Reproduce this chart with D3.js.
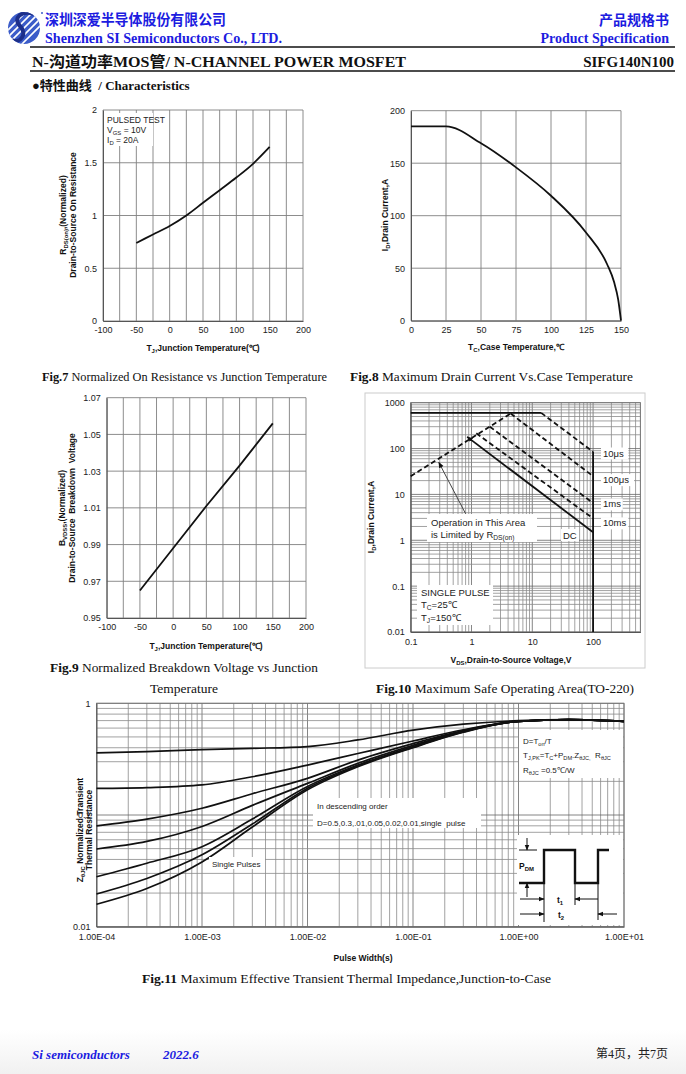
<!DOCTYPE html>
<html>
<head>
<meta charset="utf-8">
<script src="https://cdn.jsdelivr.net/npm/d3@7"></script>
<style>
  body { margin: 0; background: #fff; }
  svg { display: block; }
  text { white-space: pre; }
</style>
</head>
<body>
<svg id="page"></svg>
<script>
// Fig.7 on-resistance vs junction temperature
const rdsTemp = [-50, -25, 0, 25, 50, 75, 100, 125, 150];
const rdsNorm = [0.74, 0.82, 0.90, 1.0, 1.12, 1.24, 1.36, 1.49, 1.65];

// Fig.8 drain current vs case temperature
const idTemp = [0, 25, 50, 75, 100, 125, 140, 145, 148, 150];
const idCurrent = [185, 185, 169, 146, 119, 84, 54, 37, 20, 0];

// Fig.9 breakdown voltage vs junction temperature
const bvTemp = [-50, 0, 50, 100, 150];
const bvNorm = [0.965, 0.988, 1.011, 1.033, 1.056];

// Fig.10 safe operating area, [V, A] pairs
const soaRdsLimit = [[0.1, 25], [4.4, 580]];
const soaFlat = [[0.1, 600], [14, 600]];
const soa10us = [[14, 600], [100, 85]];
const soa100us = [[4.4, 580], [100, 25]];
const soa1ms = [[2, 300], [100, 6.5]];
const soa10ms = [[1.2, 215], [100, 3]];
const soaDC = [[0.85, 180], [100, 1.5]];
const soaVmax = [[100, 85], [100, 0.01]];
const soaLabels = ["10μs", "100μs", "1ms", "10ms"];
const soaLabelY = [80, 21, 6.2, 2.4];

// Fig.11 transient thermal impedance
const pulseWidth = [1e-4, 3e-4, 1e-3, 3e-3, 1e-2, 3e-2, 1e-1, 3e-1, 1, 3, 10];
const zthD05 = [0.36, 0.37, 0.385, 0.395, 0.41, 0.47, 0.575, 0.65, 0.70, 0.715, 0.69];
const zthD03 = [0.173, 0.176, 0.186, 0.22, 0.28, 0.355, 0.46, 0.58, 0.69, 0.715, 0.69];
const zthD01 = [0.08, 0.092, 0.115, 0.155, 0.213, 0.31, 0.435, 0.57, 0.69, 0.715, 0.69];
const zthD005 = [0.0496, 0.058, 0.079, 0.122, 0.192, 0.29, 0.42, 0.565, 0.69, 0.715, 0.69];
const zthD002 = [0.028, 0.037, 0.052, 0.092, 0.18, 0.28, 0.41, 0.56, 0.69, 0.715, 0.69];
const zthD001 = [0.0196, 0.027, 0.044, 0.083, 0.174, 0.275, 0.405, 0.555, 0.69, 0.715, 0.69];
const zthSingle = [0.0159, 0.022, 0.038, 0.078, 0.168, 0.27, 0.40, 0.55, 0.69, 0.715, 0.69];
const zthTickLabels = ["1.00E-04", "1.00E-03", "1.00E-02", "1.00E-01", "1.00E+00", "1.00E+01"];

const SANS = "'Liberation Sans', Arial, sans-serif";
const SERIF = "'Liberation Serif', 'Times New Roman', 'Noto Sans CJK SC', serif";
const CJK = "'Noto Sans CJK SC', sans-serif";
const BLUE = "#1c1ce0";

const svg = d3.select("#page").attr("width", 686).attr("height", 1074);

const defs = svg.append("defs");
defs.append("marker").attr("id", "arr").attr("viewBox", "0 0 10 10")
    .attr("refX", 9).attr("refY", 5).attr("markerWidth", 6).attr("markerHeight", 6)
    .attr("orient", "auto-start-reverse").attr("markerUnits", "userSpaceOnUse")
    .append("path").attr("d", "M0,1 L10,5 L0,9 z").attr("fill", "#111");
const fade = defs.append("linearGradient").attr("id", "fade").attr("x1", 0).attr("y1", 0).attr("x2", 0).attr("y2", 1);
fade.append("stop").attr("offset", "0%").attr("stop-color", "#fff");
fade.append("stop").attr("offset", "100%").attr("stop-color", "#f1f1f1");
svg.append("rect").attr("x", 0).attr("y", 1030).attr("width", 686).attr("height", 44).attr("fill", "url(#fade)");

// text with subscripts: plain strings are normal, [str] is subscript
function rich(g, x, y, parts, attrs) {
    const t = g.append("text").attr("x", x).attr("y", y);
    Object.entries(attrs || {}).forEach(([k, v]) => t.attr(k, v));
    let inSub = false;
    parts.forEach((p) => {
        const isSub = Array.isArray(p);
        const ts = t.append("tspan").text(isSub ? p[0] : p);
        if (isSub) ts.attr("font-size", "0.7em");
        if (isSub && !inSub) ts.attr("dy", 2);
        if (!isSub && inSub) ts.attr("dy", -2);
        inSub = isSub;
    });
    return t;
}

function styleAxis(a) {
    a.select(".domain").attr("stroke", "#555");
    a.selectAll("text").attr("font-family", SANS).attr("font-size", 9).attr("fill", "#222");
}

function linearChart(o) {
    const g = svg.append("g");
    const x = d3.scaleLinear().domain(o.xDomain).range([o.left, o.right]);
    const y = d3.scaleLinear().domain(o.yDomain).range([o.bottom, o.top]);
    const xs = d3.range(o.xDomain[0], o.xDomain[1] + o.xStep / 2, o.xStep);
    const ys = d3.range(o.yDomain[0], o.yDomain[1] + o.yStep / 2, o.yStep);
    g.selectAll(".vg").data(xs).join("line")
        .attr("x1", (d) => x(d)).attr("x2", (d) => x(d))
        .attr("y1", o.top).attr("y2", o.bottom)
        .attr("stroke", "#808080").attr("stroke-width", 0.9);
    g.selectAll(".hg").data(ys).join("line")
        .attr("y1", (d) => y(d)).attr("y2", (d) => y(d))
        .attr("x1", o.left).attr("x2", o.right)
        .attr("stroke", "#808080").attr("stroke-width", 0.9);
    g.append("g").attr("transform", `translate(0,${o.bottom})`)
        .call(d3.axisBottom(x).tickValues(o.xTicks).tickSize(0).tickPadding(6).tickFormat((d) => String(d)))
        .call(styleAxis);
    g.append("g").attr("transform", `translate(${o.left},0)`)
        .call(d3.axisLeft(y).tickValues(o.yTicks).tickSize(0).tickPadding(6).tickFormat(o.yFormat || ((d) => String(d))))
        .call(styleAxis);
    return { g, x, y };
}

function logValues(lo, hi) {
    const out = [];
    for (let e = Math.floor(Math.log10(lo)); e <= Math.ceil(Math.log10(hi)); e++) {
        for (let m = 1; m < 10; m++) {
            const v = m * Math.pow(10, e);
            if (v >= lo * 0.999 && v <= hi * 1.001) out.push(v);
        }
    }
    return out;
}

function logChart(o) {
    const g = svg.append("g");
    const x = d3.scaleLog().domain(o.xDomain).range([o.left, o.right]);
    const y = d3.scaleLog().domain(o.yDomain).range([o.bottom, o.top]);
    const isMajor = (v) => Math.abs(Math.log10(v) - Math.round(Math.log10(v))) < 1e-6;
    g.selectAll(".vg").data(logValues(...o.xDomain)).join("line")
        .attr("x1", (d) => x(d)).attr("x2", (d) => x(d))
        .attr("y1", o.top).attr("y2", o.bottom)
        .attr("stroke", (d) => (isMajor(d) ? "#666" : "#8a8a8a")).attr("stroke-width", 0.8);
    g.selectAll(".hg").data(logValues(...o.yDomain)).join("line")
        .attr("y1", (d) => y(d)).attr("y2", (d) => y(d))
        .attr("x1", o.left).attr("x2", o.right)
        .attr("stroke", (d) => (isMajor(d) ? "#666" : "#8a8a8a")).attr("stroke-width", 0.8);
    g.append("rect").attr("x", o.left).attr("y", o.top)
        .attr("width", o.right - o.left).attr("height", o.bottom - o.top)
        .attr("fill", "none").attr("stroke", "#777").attr("stroke-width", 0.9);
    g.append("g").attr("transform", `translate(0,${o.bottom})`)
        .call(d3.axisBottom(x).tickValues(o.xTicks).tickSize(0).tickPadding(7).tickFormat(o.xFormat))
        .call(styleAxis);
    g.append("g").attr("transform", `translate(${o.left},0)`)
        .call(d3.axisLeft(y).tickValues(o.yTicks).tickSize(0).tickPadding(6).tickFormat(o.yFormat))
        .call(styleAxis);
    return { g, x, y };
}

function whiteBox(g, x, y, w, h) {
    g.append("rect").attr("x", x).attr("y", y).attr("width", w).attr("height", h).attr("fill", "#fff");
}

function xTitle(g, cx, y, parts) {
    rich(g, cx, y, parts, { "text-anchor": "middle", "font-family": SANS, "font-size": 8.5, "font-weight": "bold", fill: "#111" });
}

function yTitle(g, x, cy, parts) {
    const t = rich(g, 0, 0, parts, { "text-anchor": "middle", "font-family": SANS, "font-size": 8.5, "font-weight": "bold", fill: "#111" });
    t.attr("transform", `translate(${x},${cy}) rotate(-90)`);
}

function caption(x, y, bold, rest, width, anchor) {
    const t = svg.append("text").attr("x", x).attr("y", y).attr("font-family", SERIF)
        .attr("font-size", 13.3).attr("fill", "#111").attr("text-anchor", anchor || "start")
        .attr("textLength", width).attr("lengthAdjust", "spacingAndGlyphs");
    if (bold) t.append("tspan").attr("font-weight", "bold").text(bold);
    t.append("tspan").text(rest);
}

// ---------------- header ----------------
const logo = svg.append("g");
defs.append("clipPath").attr("id", "logoClip").append("circle").attr("cx", 24).attr("cy", 28).attr("r", 16);
logo.append("circle").attr("cx", 24).attr("cy", 28).attr("r", 16).attr("fill", "#3b5cc9");
const logoStripes = logo.append("g").attr("clip-path", "url(#logoClip)");
[-14, -7, 0, 7, 14].forEach((off) => {
    logoStripes.append("line").attr("x1", 24 + off - 20).attr("y1", 48).attr("x2", 24 + off + 20).attr("y2", 8)
        .attr("stroke", "#fff").attr("stroke-width", 1.6);
});
logoStripes.append("path").attr("d", "M34,14 C22,10 12,18 20,26 C28,34 20,44 12,40")
    .attr("fill", "none").attr("stroke", "#1d2f8a").attr("stroke-width", 4);
svg.append("circle").attr("cx", 42).attr("cy", 13).attr("r", 1).attr("fill", "#3b5cc9");

svg.append("text").attr("x", 45).attr("y", 25).attr("font-family", CJK).attr("font-weight", "bold")
    .attr("font-size", 14.5).attr("fill", BLUE).attr("textLength", 181).attr("lengthAdjust", "spacingAndGlyphs")
    .text("深圳深爱半导体股份有限公司");
svg.append("text").attr("x", 45).attr("y", 43).attr("font-family", SERIF).attr("font-weight", "bold")
    .attr("font-size", 14).attr("fill", BLUE).attr("textLength", 237).attr("lengthAdjust", "spacingAndGlyphs")
    .text("Shenzhen SI Semiconductors Co., LTD.");
svg.append("text").attr("x", 669).attr("y", 25).attr("font-family", CJK).attr("font-weight", "bold")
    .attr("font-size", 14).attr("fill", BLUE).attr("text-anchor", "end").text("产品规格书");
svg.append("text").attr("x", 669).attr("y", 43).attr("font-family", SERIF).attr("font-weight", "bold")
    .attr("font-size", 14).attr("fill", BLUE).attr("text-anchor", "end").text("Product Specification");
svg.append("line").attr("x1", 30).attr("x2", 675).attr("y1", 47).attr("y2", 47).attr("stroke", "#111").attr("stroke-width", 1.6);
svg.append("text").attr("x", 32).attr("y", 67).attr("font-family", SERIF).attr("font-weight", "bold")
    .attr("font-size", 15).attr("fill", "#111").attr("textLength", 374).attr("lengthAdjust", "spacingAndGlyphs")
    .text("N-沟道功率MOS管/ N-CHANNEL POWER MOSFET");
svg.append("text").attr("x", 674).attr("y", 67).attr("font-family", SERIF).attr("font-weight", "bold")
    .attr("font-size", 15).attr("fill", "#111").attr("text-anchor", "end").text("SIFG140N100");
svg.append("line").attr("x1", 30).attr("x2", 675).attr("y1", 71).attr("y2", 71).attr("stroke", "#111").attr("stroke-width", 1.3);
svg.append("text").attr("x", 32).attr("y", 90).attr("font-family", SERIF).attr("font-weight", "bold")
    .attr("font-size", 13).attr("fill", "#111").text("●特性曲线  / Characteristics");

// ---------------- Fig.7 ----------------
const f7 = linearChart({
    left: 103, right: 303, top: 110, bottom: 321,
    xDomain: [-100, 200], xStep: 25, yDomain: [0, 2], yStep: 0.5,
    xTicks: d3.range(-100, 201, 50), yTicks: [0, 0.5, 1, 1.5, 2],
});
f7.g.append("path").datum(d3.zip(rdsTemp, rdsNorm))
    .attr("d", d3.line().x((d) => f7.x(d[0])).y((d) => f7.y(d[1])).curve(d3.curveMonotoneX))
    .attr("fill", "none").attr("stroke", "#111").attr("stroke-width", 1.8);
whiteBox(f7.g, 105, 113, 48, 33);
const leg7 = { "font-family": SANS, "font-size": 8.5, fill: "#222" };
rich(f7.g, 107, 123, ["PULSED TEST"], leg7);
rich(f7.g, 107, 133, ["V", ["GS"], " = 10V"], leg7);
rich(f7.g, 107, 143, ["I", ["D"], " = 20A"], leg7);
xTitle(f7.g, 203, 351, ["T", ["J"], ",Junction Temperature(℃)"]);
yTitle(f7.g, 66, 215, ["R", ["DS(on)"], ",(Normalized)"]);
yTitle(f7.g, 76, 215, ["Drain-to-Source On Resistance"]);
caption(42, 381, "Fig.7", " Normalized On Resistance vs Junction Temperature", 285);

// ---------------- Fig.8 ----------------
const f8 = linearChart({
    left: 411, right: 621, top: 110.7, bottom: 320.7,
    xDomain: [0, 150], xStep: 25, yDomain: [0, 200], yStep: 50,
    xTicks: d3.range(0, 151, 25), yTicks: d3.range(0, 201, 50),
});
f8.g.append("path").datum(d3.zip(idTemp, idCurrent))
    .attr("d", d3.line().x((d) => f8.x(d[0])).y((d) => f8.y(d[1])).curve(d3.curveMonotoneX))
    .attr("fill", "none").attr("stroke", "#111").attr("stroke-width", 1.8);
xTitle(f8.g, 516, 350, ["T", ["C"], ",Case Temperature,℃"]);
yTitle(f8.g, 388, 215, ["I", ["D"], ",Drain Current,A"]);
caption(350, 381, "Fig.8", " Maximum Drain Current Vs.Case Temperature", 283);

// ---------------- Fig.9 ----------------
const f9 = linearChart({
    left: 106.7, right: 306, top: 397.7, bottom: 618,
    xDomain: [-100, 200], xStep: 25, yDomain: [0.95, 1.07], yStep: 0.02,
    xTicks: d3.range(-100, 201, 50), yTicks: [0.95, 0.97, 0.99, 1.01, 1.03, 1.05, 1.07],
    yFormat: d3.format(".2f"),
});
f9.g.append("path").datum(d3.zip(bvTemp, bvNorm))
    .attr("d", d3.line().x((d) => f9.x(d[0])).y((d) => f9.y(d[1])))
    .attr("fill", "none").attr("stroke", "#111").attr("stroke-width", 1.8);
xTitle(f9.g, 206, 649, ["T", ["J"], ",Junction Temperature(℃)"]);
yTitle(f9.g, 65, 508, ["B", ["VDSS"], ",(Normalized)"]);
yTitle(f9.g, 75, 508, ["Drain-to-Source  Breakdown  Voltage"]);
caption(50, 672, "Fig.9", " Normalized Breakdown Voltage vs Junction", 268);
caption(184, 693, "", "Temperature", 68, "middle");

// ---------------- Fig.10 ----------------
svg.append("rect").attr("x", 365).attr("y", 393).attr("width", 280).attr("height", 275)
    .attr("fill", "#fff").attr("stroke", "#ccc").attr("stroke-width", 1);
const f10 = logChart({
    left: 410.7, right: 640.4, top: 402.7, bottom: 632,
    xDomain: [0.1, 600], yDomain: [0.01, 1000],
    xTicks: [0.1, 1, 10, 100], yTicks: [0.01, 0.1, 1, 10, 100, 1000],
    xFormat: (d) => String(d), yFormat: (d) => String(d),
});
const soaLine = d3.line().x((d) => f10.x(d[0])).y((d) => f10.y(d[1]));
function soaPath(data, dashed, marker) {
    const p = f10.g.append("path").datum(data).attr("d", soaLine)
        .attr("fill", "none").attr("stroke", "#111").attr("stroke-width", 1.8);
    if (dashed) p.attr("stroke-dasharray", "5,3");
    if (marker) p.attr("marker-start", "url(#arr)");
    return p;
}
soaPath(soaRdsLimit, true);
soaPath(soaFlat, false);
soaPath(soa10us, true);
soaPath(soa100us, true);
soaPath(soa1ms, true);
soaPath(soa10ms, true);
soaPath(soaDC, false, true);
soaPath(soaVmax, false);
// arrow pointing to the Rds(on) limit
f10.g.append("line").attr("x1", f10.x(0.8)).attr("y1", f10.y(3.8)).attr("x2", f10.x(0.29)).attr("y2", f10.y(50))
    .attr("stroke", "#444").attr("stroke-width", 1).attr("marker-end", "url(#arr)");
const soaTxt = { "font-family": SANS, "font-size": 9.5, fill: "#222" };
soaLabels.forEach((lab, i) => {
    const yy = f10.y(soaLabelY[i]) + 3.5;
    whiteBox(f10.g, 601, yy - 9, lab.length * 5.6 + 5, 12);
    rich(f10.g, 603, yy, [lab], soaTxt);
});
whiteBox(f10.g, 427, 514, 110, 28);
rich(f10.g, 431, 526, ["Operation in This Area"], soaTxt);
rich(f10.g, 431, 538, ["is Limited by R", ["DS(on)"]], soaTxt);
whiteBox(f10.g, 561, 529, 18, 12);
rich(f10.g, 563, 539, ["DC"], soaTxt);
whiteBox(f10.g, 417, 585, 76, 40);
rich(f10.g, 421, 596, ["SINGLE PULSE"], soaTxt);
rich(f10.g, 421, 608, ["T", ["C"], "=25℃"], soaTxt);
rich(f10.g, 421, 621, ["T", ["J"], "=150℃"], soaTxt);
xTitle(f10.g, 511, 663, ["V", ["DS"], ",Drain-to-Source Voltage,V"]);
yTitle(f10.g, 374, 517, ["I", ["D"], ",Drain Current,A"]);
caption(376, 693, "Fig.10", " Maximum Safe Operating Area(TO-220)", 258);

// ---------------- Fig.11 ----------------
const f11 = logChart({
    left: 96.5, right: 624, top: 703.3, bottom: 926.7,
    xDomain: [1e-4, 10], yDomain: [0.01, 1],
    xTicks: [1e-4, 1e-3, 1e-2, 1e-1, 1, 10], yTicks: [0.01, 0.1, 1],
    xFormat: (d, i) => zthTickLabels[i], yFormat: (d) => String(d),
});
const zthLine = d3.line().x((d) => f11.x(d[0])).y((d) => f11.y(d[1])).curve(d3.curveMonotoneX);
[zthD05, zthD03, zthD01, zthD005, zthD002, zthD001, zthSingle].forEach((s) => {
    f11.g.append("path").datum(d3.zip(pulseWidth, s)).attr("d", zthLine)
        .attr("fill", "none").attr("stroke", "#111").attr("stroke-width", 1.7);
});
const zTxt = { "font-family": SANS, "font-size": 8, fill: "#222" };
whiteBox(f11.g, 313, 798, 168, 30);
rich(f11.g, 317, 809, ["In descending order"], zTxt);
rich(f11.g, 317, 826, ["D=0.5,0.3,.01,0.05,0.02,0.01,single  pulse"], zTxt);
whiteBox(f11.g, 209, 857, 56, 12);
rich(f11.g, 212, 867, ["Single Pulses"], zTxt);
whiteBox(f11.g, 519, 730, 104, 48);
rich(f11.g, 523, 744, ["D=T", ["on"], "/T"], zTxt);
rich(f11.g, 523, 758, ["T", ["J,PK"], "=T", ["C"], "+P", ["DM"], ".Z", ["θJC,"], "  R", ["θJC"]], zTxt);
rich(f11.g, 523, 773, ["R", ["θJC"], " =0.5℃/W"], zTxt);

// duty-cycle pulse sketch (inset, not data)
const px = 517, py = 835;
whiteBox(f11.g, px, py, 106, 90);
const inset = f11.g.append("g").attr("transform", `translate(${px},${py})`);
inset.append("path").attr("d", "M2,48 H27 V15 H58 V48 H81 V15 H92")
    .attr("fill", "none").attr("stroke", "#111").attr("stroke-width", 2.4);
inset.append("line").attr("x1", 2).attr("x2", 20).attr("y1", 15).attr("y2", 15).attr("stroke", "#111").attr("stroke-width", 1);
const thin = (x1, y1, x2, y2, mark) => {
    const l = inset.append("line").attr("x1", x1).attr("y1", y1).attr("x2", x2).attr("y2", y2)
        .attr("stroke", "#111").attr("stroke-width", 1);
    if (mark) l.attr("marker-end", "url(#arr)");
};
thin(10, 3, 10, 15, true);
thin(10, 62, 10, 48, true);
thin(27, 48, 27, 87);
thin(58, 48, 58, 70);
thin(81, 48, 81, 85);
thin(3, 64, 27, 64, true);
thin(81, 64, 58, 64, true);
thin(3, 79, 27, 79, true);
thin(100, 79, 81, 79, true);
rich(inset, 2, 34, ["P", ["DM"]], { "font-family": SANS, "font-size": 8.5, "font-weight": "bold", fill: "#111" });
rich(inset, 40, 68, ["t", ["1"]], { "font-family": SANS, "font-size": 8.5, "font-weight": "bold", fill: "#111" });
rich(inset, 41, 83, ["t", ["2"]], { "font-family": SANS, "font-size": 8.5, "font-weight": "bold", fill: "#111" });

xTitle(f11.g, 363, 961, ["Pulse Width(s)"]);
yTitle(f11.g, 83, 830, ["Z", ["θJC"], " Normalized Transient"]);
yTitle(f11.g, 92, 830, ["Thermal Resistance"]);
caption(142, 983, "Fig.11", " Maximum Effective Transient Thermal Impedance,Junction-to-Case", 409);

// ---------------- footer ----------------
svg.append("text").attr("x", 32).attr("y", 1059).attr("font-family", SERIF).attr("font-weight", "bold")
    .attr("font-style", "italic").attr("font-size", 13).attr("fill", BLUE).text("Si semiconductors");
svg.append("text").attr("x", 163).attr("y", 1059).attr("font-family", SERIF).attr("font-weight", "bold")
    .attr("font-style", "italic").attr("font-size", 13).attr("fill", BLUE).text("2022.6");
svg.append("text").attr("x", 668).attr("y", 1058).attr("font-family", SERIF).attr("font-size", 12)
    .attr("fill", "#222").attr("text-anchor", "end").text("第4页，共7页");
</script>
</body>
</html>
